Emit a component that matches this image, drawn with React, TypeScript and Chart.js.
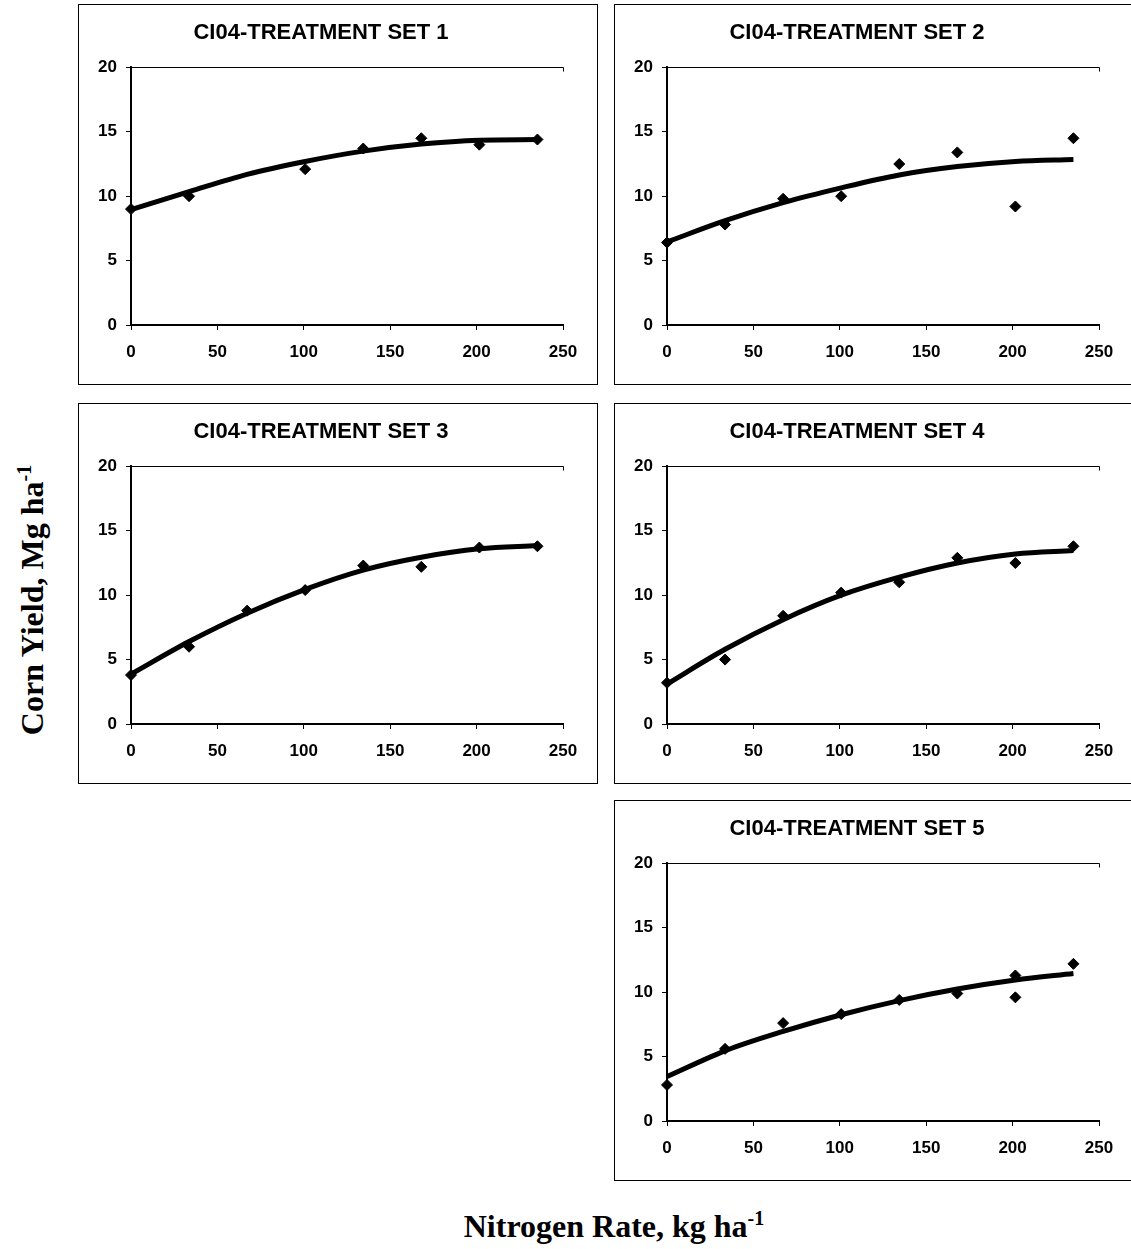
import React, { useEffect, useRef } from 'react';
import { Chart, registerables } from 'chart.js';

Chart.register(...registerables);

// Nitrogen rates (kg/ha) at which the fitted response curves are evaluated
const nitrogenRates = [0, 33.6, 67.2, 100.8, 134.4, 168, 201.6, 235.2];

// Axis tick values
const xTickValues = [0, 50, 100, 150, 200, 250];
const yTickValues = [0, 5, 10, 15, 20];

// Treatment set 1
const set1Rates = [0, 33.6, 100.8, 134.4, 168, 201.6, 235.2];
const set1Yields = [9.0, 10.0, 12.1, 13.7, 14.5, 14.0, 14.4];
const set1Fit = [8.95, 10.35, 11.7, 12.7, 13.5, 14.05, 14.35, 14.4];

// Treatment set 2
const set2Rates = [0, 33.6, 67.2, 100.8, 134.4, 168, 201.6, 235.2];
const set2Yields = [6.4, 7.8, 9.8, 10.0, 12.5, 13.4, 9.2, 14.5];
const set2Fit = [6.45, 8.1, 9.5, 10.65, 11.65, 12.3, 12.7, 12.85];

// Treatment set 3
const set3Rates = [0, 33.6, 67.2, 100.8, 134.4, 168, 201.6, 235.2];
const set3Yields = [3.8, 6.0, 8.8, 10.4, 12.3, 12.2, 13.7, 13.8];
const set3Fit = [3.87, 6.4, 8.6, 10.45, 11.95, 12.95, 13.6, 13.85];

// Treatment set 4
const set4Rates = [0, 33.6, 67.2, 100.8, 134.4, 168, 201.6, 235.2];
const set4Yields = [3.2, 5.0, 8.4, 10.2, 11.0, 12.9, 12.5, 13.8];
const set4Fit = [3.1, 5.8, 8.1, 10.0, 11.4, 12.5, 13.2, 13.47];

// Treatment set 5
const set5Rates = [0, 33.6, 67.2, 100.8, 134.4, 168, 201.6, 201.6, 235.2];
const set5Yields = [2.8, 5.6, 7.6, 8.3, 9.4, 9.9, 11.3, 9.6, 12.2];
const set5Fit = [3.45, 5.45, 6.95, 8.25, 9.35, 10.25, 10.95, 11.45];

const panelTitles = [
  'CI04-TREATMENT SET 1',
  'CI04-TREATMENT SET 2',
  'CI04-TREATMENT SET 3',
  'CI04-TREATMENT SET 4',
  'CI04-TREATMENT SET 5',
];

const SANS = '"Liberation Sans", Arial, Helvetica, sans-serif';
const SERIF = '"Liberation Serif", "Times New Roman", Times, serif';

const CANVAS_W = 518;
const CANVAS_H = 379;

// thin line along the top of the plot area
const plotFrame = {
  id: 'plotFrame',
  beforeDatasetsDraw(chart: any) {
    const { ctx, chartArea: a } = chart;
    const y = Math.round(a.top) + 0.5;
    const x = Math.round(a.right) + 0.5;
    ctx.save();
    ctx.strokeStyle = '#000';
    ctx.lineWidth = 1;
    ctx.beginPath();
    ctx.moveTo(a.left, y);
    ctx.lineTo(x, y);
    ctx.lineTo(x, y + 4);
    ctx.stroke();
    ctx.restore();
  },
};

type PanelProps = {
  title: string;
  rates: number[];
  yields: number[];
  fit: number[];
  left: number;
  top: number;
};

function Panel({ title, rates, yields, fit, left, top }: PanelProps) {
  const ref = useRef<HTMLCanvasElement | null>(null);

  useEffect(() => {
    if (!ref.current) return;
    const fitPoints = nitrogenRates.map((x, i) => ({ x, y: fit[i] }));
    const obsPoints = rates.map((x, i) => ({ x, y: yields[i] }));
    const tickFont = { family: SANS, size: 17, weight: 'bold' as const };

    const chart = new Chart(ref.current, {
      type: 'scatter',
      data: {
        datasets: [
          {
            data: fitPoints,
            showLine: true,
            borderColor: '#000',
            borderWidth: 5,
            pointRadius: 0,
            pointHoverRadius: 0,
            cubicInterpolationMode: 'monotone',
            fill: false,
            clip: false,
          } as any,
          {
            data: obsPoints,
            showLine: false,
            pointStyle: 'rectRot',
            pointRadius: 5.5,
            pointHoverRadius: 5.5,
            backgroundColor: '#000',
            borderColor: '#000',
            borderWidth: 1,
            clip: false,
          } as any,
        ],
      },
      options: {
        animation: false,
        responsive: false,
        devicePixelRatio: 1,
        events: [],
        layout: { padding: { left: 0, right: 34, top: 0, bottom: 0 } },
        plugins: {
          legend: { display: false },
          tooltip: { enabled: false },
          title: {
            display: true,
            text: title,
            color: '#000',
            font: { family: SANS, size: 22, weight: 'bold' },
            padding: { top: 15, bottom: 21 },
          },
        },
        scales: {
          x: {
            type: 'linear',
            min: 0,
            max: 250,
            afterBuildTicks: (s: any) => {
              s.ticks = xTickValues.map((value) => ({ value }));
            },
            afterFit: (s: any) => {
              s.height = 59;
            },
            grid: {
              drawOnChartArea: false,
              drawTicks: true,
              tickLength: 5,
              color: '#000',
              lineWidth: 1,
            },
            border: { display: true, color: '#000', width: 2 },
            ticks: {
              color: '#000',
              font: tickFont,
              padding: 12,
              maxRotation: 0,
              autoSkip: false,
            },
          },
          y: {
            type: 'linear',
            min: 0,
            max: 20,
            afterBuildTicks: (s: any) => {
              s.ticks = yTickValues.map((value) => ({ value }));
            },
            afterFit: (s: any) => {
              s.width = 52;
            },
            grid: {
              drawOnChartArea: false,
              drawTicks: true,
              tickLength: 5,
              color: '#000',
              lineWidth: 1,
            },
            border: { display: true, color: '#000', width: 2 },
            ticks: {
              color: '#000',
              font: tickFont,
              padding: 9,
              autoSkip: false,
            },
          },
        },
      } as any,
      plugins: [plotFrame],
    });

    return () => chart.destroy();
  }, [title, rates, yields, fit]);

  return (
    <div
      style={{
        position: 'absolute',
        left,
        top,
        width: CANVAS_W,
        height: CANVAS_H,
        border: '1px solid #000',
        background: '#fff',
      }}
    >
      <canvas
        ref={ref}
        width={CANVAS_W}
        height={CANVAS_H}
        style={{ display: 'block', width: CANVAS_W, height: CANVAS_H }}
      />
    </div>
  );
}

export default function App() {
  return (
    <div
      style={{
        position: 'absolute',
        left: 0,
        top: 0,
        width: 1131,
        height: 1249,
        overflow: 'hidden',
        background: '#fff',
      }}
    >
      <Panel title={panelTitles[0]} rates={set1Rates} yields={set1Yields} fit={set1Fit} left={78} top={4} />
      <Panel title={panelTitles[1]} rates={set2Rates} yields={set2Yields} fit={set2Fit} left={614} top={4} />
      <Panel title={panelTitles[2]} rates={set3Rates} yields={set3Yields} fit={set3Fit} left={78} top={403} />
      <Panel title={panelTitles[3]} rates={set4Rates} yields={set4Yields} fit={set4Fit} left={614} top={403} />
      <Panel title={panelTitles[4]} rates={set5Rates} yields={set5Yields} fit={set5Fit} left={614} top={800} />

      <div
        style={{
          position: 'absolute',
          left: 32 - 200,
          top: 600 - 16,
          width: 400,
          height: 32,
          lineHeight: '32px',
          textAlign: 'center',
          transform: 'rotate(-90deg)',
          fontFamily: SERIF,
          fontWeight: 'bold',
          fontSize: 32,
          whiteSpace: 'nowrap',
          color: '#000',
        }}
      >
        Corn Yield, Mg ha
        <span style={{ fontSize: 20, position: 'relative', top: -12 }}>-1</span>
      </div>

      <div
        style={{
          position: 'absolute',
          left: 614 - 300,
          top: 1210,
          width: 600,
          height: 32,
          lineHeight: '32px',
          textAlign: 'center',
          fontFamily: SERIF,
          fontWeight: 'bold',
          fontSize: 32,
          whiteSpace: 'nowrap',
          color: '#000',
        }}
      >
        Nitrogen Rate, kg ha
        <span style={{ fontSize: 20, position: 'relative', top: -12 }}>-1</span>
      </div>
    </div>
  );
}
